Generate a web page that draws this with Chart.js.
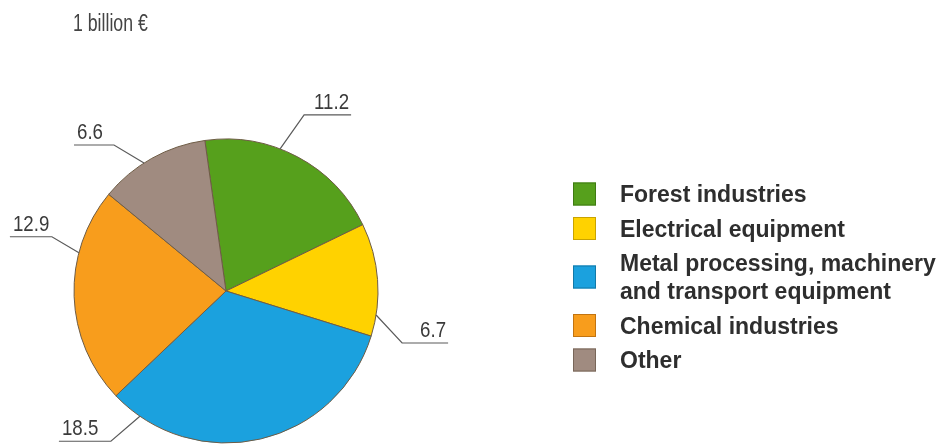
<!DOCTYPE html>
<html>
<head>
<meta charset="utf-8">
<script src="https://cdn.jsdelivr.net/npm/chart.js@4/dist/chart.umd.min.js"></script>
<style>
  html, body { margin: 0; padding: 0; background: #fff; }
  #wrap { width: 944px; height: 444px; }
</style>
</head>
<body>
<div id="wrap"><canvas id="chart" width="944" height="444"></canvas></div>
<script>
'use strict';

const unitLabel = '1 billion €';
const categories = [
    'Forest industries',
    'Electrical equipment',
    ['Metal processing, machinery', 'and transport equipment'],
    'Chemical industries',
    'Other'
];
const values = [11.2, 6.7, 18.5, 12.9, 6.6];
const colors = ['#56a01c', '#ffd200', '#1ba1de', '#f89d1c', '#a08b80'];
const edgeColors = ['#3f7a12', '#c9a300', '#1279a8', '#c27410', '#786659'];

// callout placement: point on the rim (fraction through the slice),
// elbow offset from that point, length of the underline
const callouts = [
    { frac: 0.40, dx: 24, dy: -34, len: 47 },
    { frac: 0.81, dx: 26, dy: 28, len: 46 },
    { frac: 0.90, dx: -29, dy: 25, len: 52 },
    { frac: 0.70, dx: -27, dy: -16, len: 42 },
    { frac: 0.42, dx: -30, dy: -18, len: 40 }
];

function narrowText(ctx, text, x, y, align, sx) {
    ctx.save();
    ctx.translate(x, y);
    ctx.scale(sx, 1);
    ctx.textAlign = align;
    ctx.fillText(text, 0, 0);
    ctx.restore();
}

const decorations = {
    id: 'decorations',
    afterDraw(chart) {
        const ctx = chart.ctx;
        const meta = chart.getDatasetMeta(0);

        // unit caption
        ctx.save();
        ctx.fillStyle = '#444';
        ctx.font = '23px "Liberation Sans", Arial, sans-serif';
        ctx.textBaseline = 'alphabetic';
        narrowText(ctx, unitLabel, 73, 31, 'left', 0.77);
        ctx.restore();

        // value callouts
        ctx.save();
        ctx.strokeStyle = '#5a5a5a';
        ctx.lineWidth = 1.2;
        ctx.fillStyle = '#3a3a3a';
        ctx.font = '22px "Liberation Sans", Arial, sans-serif';
        meta.data.forEach((arc, i) => {
            const c = callouts[i];
            const p = arc.getProps(['x', 'y', 'startAngle', 'endAngle', 'outerRadius'], true);
            const a = p.startAngle + c.frac * (p.endAngle - p.startAngle);
            const ax = p.x + p.outerRadius * Math.cos(a);
            const ay = p.y + p.outerRadius * Math.sin(a);
            const ex = ax + c.dx;
            const ey = ay + c.dy;
            const right = c.dx > 0;
            const lx = right ? ex + c.len : ex - c.len;
            ctx.beginPath();
            ctx.moveTo(ax, ay);
            ctx.lineTo(ex, ey);
            ctx.lineTo(lx, ey);
            ctx.stroke();
            const txt = values[i].toFixed(1);
            if (right) narrowText(ctx, txt, lx - 2, ey - 6, 'right', 0.85);
            else narrowText(ctx, txt, lx + 3, ey - 6, 'left', 0.85);
        });
        ctx.restore();

        // legend
        ctx.save();
        ctx.font = 'bold 23px "Liberation Sans", Arial, sans-serif';
        ctx.fillStyle = '#2e2e2e';
        ctx.textAlign = 'left';
        const lineStep = 28;
        const itemGap = 34.5;
        let baseline = 202;
        categories.forEach((label, i) => {
            const lines = Array.isArray(label) ? label : [label];
            const first = baseline;
            const last = first + (lines.length - 1) * lineStep;
            lines.forEach((line, k) => {
                ctx.fillText(line, 620, first + k * lineStep);
            });
            const cy = (first + last) / 2 - 8;
            ctx.fillStyle = colors[i];
            ctx.fillRect(573, cy - 11.5, 23, 23);
            ctx.strokeStyle = edgeColors[i];
            ctx.lineWidth = 1;
            ctx.strokeRect(573.5, cy - 11, 22, 22);
            ctx.fillStyle = '#2e2e2e';
            baseline = last + itemGap;
        });
        ctx.restore();
    }
};

new Chart('chart', {
    type: 'pie',
    data: {
        labels: categories,
        datasets: [{
            data: values,
            backgroundColor: colors,
            borderColor: '#6e5c45',
            borderWidth: 1,
            radius: 152
        }]
    },
    options: {
        responsive: false,
        animation: false,
        rotation: -8,
        layout: { padding: { left: 0, right: 492, top: 138, bottom: 0 } },
        plugins: {
            legend: { display: false },
            tooltip: { enabled: false }
        }
    },
    plugins: [decorations]
});
</script>
</body>
</html>
